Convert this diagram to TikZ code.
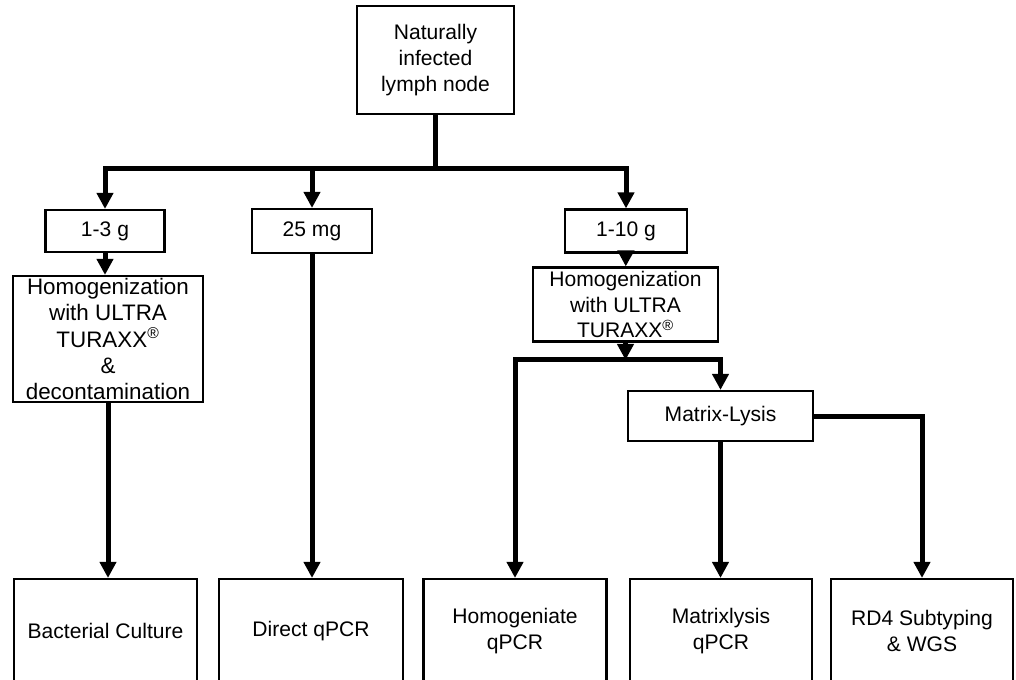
\documentclass[tikz,border=0pt]{standalone}
\usepackage{fontspec}
\setmainfont{Liberation Sans}
\usetikzlibrary{arrows.meta}

\begin{document}
\begin{tikzpicture}[x=0.75pt,y=-0.75pt,
    box/.style={draw, line width=1.6pt, inner sep=0pt, align=center,
      font=\fontsize{15.8}{19.3}\selectfont},
    link/.style={line width=3.75pt},
    arr/.style={link, -{Triangle[width=12pt,length=12pt]}}]
    \useasboundingbox (0,0) rectangle (1016,680);

    % sample and its portions
    \node[box, minimum width=117.75pt, minimum height=81pt] (lymph) at (435.5,60) {Naturally\\infected\\lymph node};
    \node[box, minimum width=89.25pt, minimum height=31.5pt] (g13) at (105,231) {1-3 g};
    \node[box, minimum width=90pt, minimum height=33pt] (mg25) at (312,231) {25 mg};
    \node[box, minimum width=91.5pt, minimum height=32.25pt] (g110) at (626,231) {1-10 g};

    % processing
    \node[box, minimum width=142.5pt, minimum height=94.5pt, font=\fontsize{16.8}{19.6}\selectfont] (homL) at (108,339)
      {Homogenization\\with ULTRA\\TURAXX\textsuperscript{\textregistered}\\\&\\decontamination};
    \node[box, minimum width=138.75pt, minimum height=55.5pt] (homR) at (625.5,304.5)
      {Homogenization\\with ULTRA\\TURAXX\textsuperscript{\textregistered}};
    \node[box, minimum width=138.75pt, minimum height=37.5pt] (lysis) at (720.5,416) {Matrix-Lysis};

    % results
    \node[box, minimum width=137.25pt, minimum height=78pt] (bact) at (105.5,631) {Bacterial Culture};
    \node[box, minimum width=138pt, minimum height=78pt] (direct) at (311,631) {Direct qPCR};
    \node[box, minimum width=137.25pt, minimum height=78pt] (hqpcr) at (515,631) {Homogeniate\\qPCR};
    \node[box, minimum width=136.5pt, minimum height=78pt] (mqpcr) at (721,631) {Matrixlysis\\qPCR};
    \node[box, minimum width=136.5pt, minimum height=78pt] (rd4) at (922,631) {RD4 Subtyping\\\& WGS};

    \coordinate (split) at (435.5,169);
    \coordinate (fork) at (625.5,360);

    \draw[link] (lymph) -- (split);
    \draw[arr] (split) -| (g13);
    \draw[arr] (split) -| (g110);
    \draw[arr] (mg25 |- split) -- (mg25);
    \draw[arr] (g13.south) -- (g13.south |- homL.north);
    \draw[arr] (homL.south) -- (homL.south |- bact.north);
    \draw[arr] (mg25) -- (mg25 |- direct.north);
    \draw[arr] (g110) -- (homR);
    \draw[arr] (homR) -- (fork);
    \draw[arr] (fork) -| (hqpcr);
    \draw[arr] (fork) -| (lysis);
    \draw[arr] (lysis) -- (lysis |- mqpcr.north);
    \draw[arr] (lysis.east) -| (rd4);
\end{tikzpicture}
\end{document}
